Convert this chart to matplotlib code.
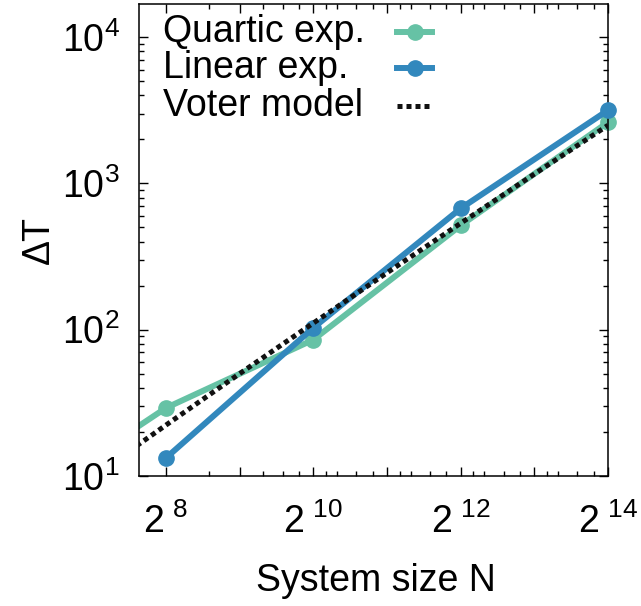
import matplotlib.pyplot as plt
from matplotlib.ticker import FixedLocator, NullFormatter

plt.rcParams['font.family'] = ['Liberation Sans', 'DejaVu Sans']
plt.rcParams['mathtext.fontset'] = 'custom'
plt.rcParams['mathtext.rm'] = 'Liberation Sans'
plt.rcParams['font.size'] = 27

# data
sizes = [2**8, 2**10, 2**12, 2**14]
quartic_n = [2**7, 2**8, 2**10, 2**12, 2**14]
quartic_dt = [13.5, 29.2, 85.4, 516, 2617]
linear_dt = [13.3, 103, 674, 3162]
voter_n = [2**7.5, 2**8, 2**9, 2**10, 2**11, 2**12, 2**13, 2**14]
voter_dt = [14.8, 22.3, 50.1, 111, 245, 534, 1158, 2495]

labels = ["Quartic exp.", "Linear exp.", "Voter model"]
green = "#66c2a5"
blue = "#3288bd"

fig = plt.figure(figsize=(6.41, 6.06), dpi=100)
ax = fig.add_axes([139 / 641, 130 / 606, 469 / 641, 472 / 606])
ax.set_xscale('log', base=2)
ax.set_yscale('log')

ax.plot(quartic_n, quartic_dt, color=green, lw=4.3, zorder=2)
ax.plot(sizes, quartic_dt[1:], 'o', color=green, ms=11, zorder=2, clip_on=False)
ax.plot(sizes, linear_dt, '-o', color=blue, lw=4.3, ms=11, zorder=3, clip_on=False)
ax.plot(voter_n, voter_dt, color='#111111', lw=3.6, dashes=(1, 0.8), zorder=4)

ax.set_xlim(2**7.633, 2**14)
ax.set_ylim(10, 10**4.226)

# x ticks: every power of 2, labels on even powers
xmaj = [2**k for k in range(8, 15)]
xlab = [r'$\mathregular{2^{\ %d}}$' % k if k % 2 == 0 else '' for k in range(8, 15)]
ax.set_xticks(xmaj, xlab)
minor_fac = {8: [1.5], 9: [1.25, 1.5, 1.75]}
xmin = []
for k in range(8, 14):
    for f in minor_fac.get(k, [1.125, 1.25, 1.5, 1.75]):
        xmin.append(f * 2**k)
ax.xaxis.set_minor_locator(FixedLocator(xmin))
ax.xaxis.set_minor_formatter(NullFormatter())

ymaj = [10**k for k in range(1, 5)]
ax.set_yticks(ymaj, [r'$\mathregular{10^{%d}}$' % k for k in range(1, 5)])
ymin = [m * 10**k for k in range(1, 5) for m in range(2, 10)]
ax.yaxis.set_minor_locator(FixedLocator(ymin))
ax.yaxis.set_minor_formatter(NullFormatter())

ax.tick_params(which='both', direction='in', top=True, right=True, width=1)
ax.tick_params(which='major', length=6.5)
ax.tick_params(which='minor', length=3.5)
ax.tick_params(axis='x', which='major', pad=20)
ax.tick_params(axis='y', which='major', pad=14)
for s in ax.spines.values():
    s.set_linewidth(1.1)

ax.set_ylabel('ΔT')
ax.yaxis.set_label_coords(-0.175, 0.5)
ax.set_xlabel('System size N')
ax.xaxis.set_label_coords(0.505, -0.185)

# legend: text left, handle on the right
rows = [0.941, 0.864, 0.784]
ax.text(0.051, rows[0], labels[0], transform=ax.transAxes, va='center', ha='left')
ax.plot([0.55, 0.625], [rows[0]] * 2, color=green, lw=4.3, transform=ax.transAxes)
ax.plot([0.588], [rows[0]], 'o', color=green, ms=11, transform=ax.transAxes)
ax.text(0.051, rows[1], labels[1], transform=ax.transAxes, va='center', ha='left')
ax.plot([0.55, 0.625], [rows[1]] * 2, color=blue, lw=4.3, transform=ax.transAxes)
ax.plot([0.588], [rows[1]], 'o', color=blue, ms=11, transform=ax.transAxes)
ax.text(0.051, rows[2], labels[2], transform=ax.transAxes, va='center', ha='left')
ax.plot([0.55, 0.625], [rows[2]] * 2, color='#111111', lw=3.6, dashes=(1, 0.8),
        transform=ax.transAxes)

fig.savefig('out.png', dpi=100)
